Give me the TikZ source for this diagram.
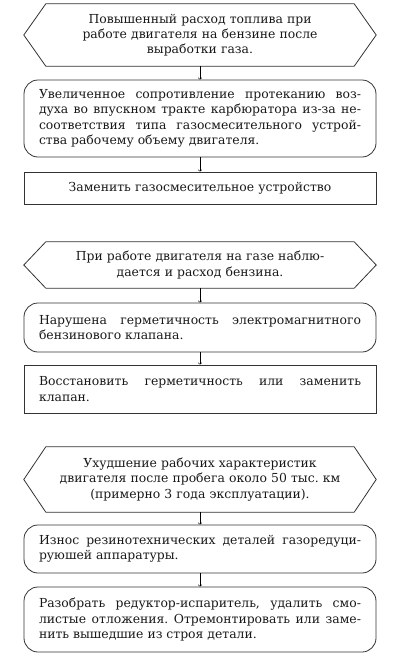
\documentclass[tikz,border=0pt]{standalone}
\usepackage{fontspec}
\setmainfont{DejaVu Serif}
\usetikzlibrary{arrows,calc}

\begin{document}
\begin{tikzpicture}[x=1pt,y=-1pt,
  txt/.style={font=\fontsize{12.4}{15.3}\selectfont, text=black!90, inner ysep=0pt,
    execute at begin node={\frenchspacing\hyphenpenalty=10000\relax\exhyphenpenalty=10000\relax\tolerance=9999\relax}},
  hexbox/.style={txt, align=center, text width=300pt, inner xsep=4pt},
  roundbox/.style={txt, draw=black!80, line width=0.8pt, rounded corners=14pt, align=justify, text width=322pt, inner xsep=15pt},
  plainbox/.style={roundbox, rounded corners=0pt},
  arr/.style={line width=0.5pt, ->, >=to}]
\useasboundingbox (0,0) rectangle (400,662);

% first fault
\node[hexbox, minimum height=62pt] (h1) at (200,35) {Повышенный расход топлива при\\ работе двигателя на бензине после\\ выработки газа.};
\node[roundbox, minimum height=77pt] (b1) at (200,118.5) {Увеличенное сопротивление протеканию воз-\linebreak духа во впускном тракте карбюратора из-за не-\linebreak соответствия типа газосмесительного устрой-\linebreak ства рабочему объему двигателя.};
\node[plainbox, align=center, minimum height=32pt] (r1) at (200,188) {Заменить газосмесительное устройство};

% second fault
\node[hexbox, minimum height=46pt] (h2) at (200,265) {При работе двигателя на газе наблю-\\ дается и расход бензина.};
\node[roundbox, minimum height=49pt] (b2) at (200,327.5) {Нарушена герметичность электромагнитного\linebreak бензинового клапана.};
\node[plainbox, minimum height=48pt] (r2) at (200,389) {Восстановить герметичность или заменить\linebreak клапан.};

% third fault
\node[hexbox, minimum height=65pt] (h3) at (200,479.5) {Ухудшение рабочих характеристик\\ двигателя после пробега около 50 тыс. км\\ (примерно 3 года эксплуатации).};
\node[roundbox, minimum height=48pt] (b3) at (200,549) {Износ резинотехнических деталей газоредуци-\linebreak руюшей аппаратуры.};
\node[roundbox, minimum height=65pt] (b4) at (200,619.5) {Разобрать редуктор-испаритель, удалить смо-\linebreak листые отложения. Отремонтировать или заме-\linebreak нить вышедшие из строя детали.};

\foreach \h in {h1,h2,h3}
	\draw[line width=0.8pt,draw=black!80] (\h.north west) -- (\h.north east) -- ($(\h.east)+(22,0)$) -- (\h.south east) -- (\h.south west) -- ($(\h.west)+(-22,0)$) -- cycle;

\draw[arr] (h1) -- (b1);
\draw[arr] (b1) -- (r1);
\draw[arr] (h2) -- (b2);
\draw[arr] (b2) -- (r2);
\draw[arr] (h3) -- (b3);
\draw[arr] (b3) -- (b4);
\end{tikzpicture}
\end{document}
